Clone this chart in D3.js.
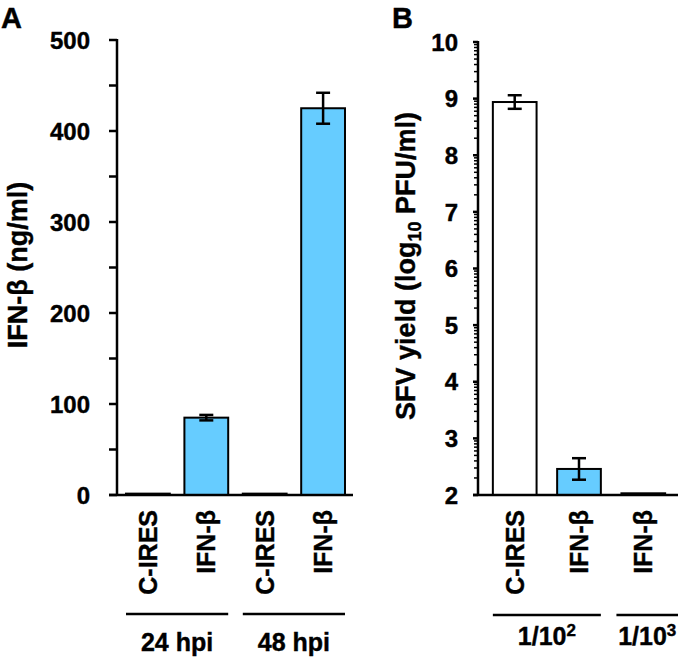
<!DOCTYPE html>
<html>
<head>
<meta charset="utf-8">
<script src="https://cdn.jsdelivr.net/npm/d3@7"></script>
<style>
  body { margin: 0; background: #fff; }
  svg text { font-family: "Liberation Sans", Arial, sans-serif; font-weight: bold; fill: #000; stroke: #000; stroke-width: 0.4px; }
</style>
</head>
<body>
<svg id="chart" width="680" height="658"></svg>
<script>
// panel A: IFN-beta secreted
const catsA = ["C-IRES", "IFN-β", "C-IRES", "IFN-β"];
const valuesA = [1.5, 85, 1.5, 425];
const errorsA = [0, 3, 0, 17];
const groupsA = [
    { label: "24 hpi", members: [0, 1] },
    { label: "48 hpi", members: [2, 3] }
];
const ticksA = [0, 50, 100, 150, 200, 250, 300, 350, 400, 450, 500];
const labelTicksA = [0, 100, 200, 300, 400, 500];

// panel B: SFV yield
const catsB = ["C-IRES", "IFN-β", "IFN-β"];
const valuesB = [8.94, 2.46, 2.03];
const errorsB = [0.12, 0.19, 0];
const groupsB = [
    { label: "1/10", sup: "2", members: [0, 1] },
    { label: "1/10", sup: "3", members: [2] }
];
const ticksB = [2, 3, 4, 5, 6, 7, 8, 9, 10];

const blue = "#66ccff";
const svg = d3.select("#chart");

function fillFor(c){
    return c === "C-IRES" ? "#fff" : blue;
}

function drawPanel(opt){
    const g = svg.append("g");
    const x = d3.scaleBand().domain(d3.range(opt.cats.length))
        .range(opt.xRange).paddingInner(opt.padIn).paddingOuter(opt.padOut);
    const y = d3.scaleLinear().domain(opt.yDomain).range(opt.yRange);
    const bw = x.bandwidth();

    // y axis line
    g.append("line")
        .attr("x1", opt.axisX).attr("x2", opt.axisX)
        .attr("y1", y(opt.yDomain[1]) - 1).attr("y2", y(opt.yDomain[0]))
        .attr("stroke", "#000").attr("stroke-width", 2.5);

    // ticks
    g.selectAll("line.tick").data(opt.ticks).join("line")
        .attr("class", "tick")
        .attr("x1", opt.axisX - opt.tickLen).attr("x2", opt.axisX)
        .attr("y1", d => y(d)).attr("y2", d => y(d))
        .attr("stroke", "#000").attr("stroke-width", 2.5);
    if (opt.minor){
        g.selectAll("line.minor").data(opt.minor).join("line")
            .attr("class", "minor")
            .attr("x1", opt.axisX - opt.minorLen).attr("x2", opt.axisX)
            .attr("y1", d => y(d)).attr("y2", d => y(d))
            .attr("stroke", "#000").attr("stroke-width", 1.5);
    }
    g.selectAll("text.tlab").data(opt.labelTicks).join("text")
        .attr("class", "tlab")
        .attr("x", opt.axisX - opt.labelGap)
        .attr("y", d => y(d))
        .attr("dy", "0.36em")
        .attr("text-anchor", "end")
        .style("font-size", "24px")
        .text(d => d);

    // bars
    g.selectAll("rect.bar").data(opt.values).join("rect")
        .attr("class", "bar")
        .attr("x", (d, i) => x(i))
        .attr("y", d => y(d))
        .attr("width", bw)
        .attr("height", d => y(opt.yDomain[0]) - y(d))
        .attr("fill", (d, i) => fillFor(opt.cats[i]))
        .attr("stroke", "#000").attr("stroke-width", 2);

    // error bars
    const eb = opt.values.map((v, i) => ({ v, e: opt.errors[i], i })).filter(d => d.e > 0);
    const ebG = g.selectAll("g.err").data(eb).join("g")
        .attr("class", "err")
        .attr("stroke", "#000").attr("stroke-width", 2.5);
    ebG.append("line")
        .attr("x1", d => x(d.i) + bw / 2).attr("x2", d => x(d.i) + bw / 2)
        .attr("y1", d => y(d.v + d.e)).attr("y2", d => y(d.v - d.e));
    ebG.append("line")
        .attr("x1", d => x(d.i) + bw / 2 - 7).attr("x2", d => x(d.i) + bw / 2 + 7)
        .attr("y1", d => y(d.v + d.e)).attr("y2", d => y(d.v + d.e));
    ebG.append("line")
        .attr("x1", d => x(d.i) + bw / 2 - 7).attr("x2", d => x(d.i) + bw / 2 + 7)
        .attr("y1", d => y(d.v - d.e)).attr("y2", d => y(d.v - d.e));

    // baseline
    g.append("line")
        .attr("x1", opt.axisX - opt.tickLen).attr("x2", opt.baseEnd)
        .attr("y1", y(opt.yDomain[0])).attr("y2", y(opt.yDomain[0]))
        .attr("stroke", "#000").attr("stroke-width", 2.5);

    // rotated category labels
    g.selectAll("text.clab").data(opt.cats).join("text")
        .attr("class", "clab")
        .attr("transform", (d, i) => `translate(${x(i) + bw / 2},${y(opt.yDomain[0]) + 15}) rotate(-90)`)
        .attr("dy", "0.36em")
        .attr("text-anchor", "end")
        .style("font-size", "25px")
        .text(d => d);

    // group lines + labels
    opt.groups.forEach(grp => {
        const x0 = x(grp.members[0]);
        let x1 = x(grp.members[grp.members.length - 1]) + bw;
        if (grp.members.length === 1){ x1 = opt.baseEnd; }
        const left = grp.members.length === 1 ? x0 - 5 : x0;
        g.append("line")
            .attr("x1", left).attr("x2", x1)
            .attr("y1", opt.groupLineY).attr("y2", opt.groupLineY)
            .attr("stroke", "#000").attr("stroke-width", 2.5);
        const t = g.append("text")
            .attr("x", (left + x1) / 2)
            .attr("y", opt.groupLabelY)
            .attr("text-anchor", "middle")
            .style("font-size", "25px")
            .text(grp.label);
        if (grp.sup){
            t.append("tspan").attr("dy", -9).style("font-size", "17px").text(grp.sup);
        }
    });

    // y title
    const title = g.append("text")
        .attr("transform", `translate(${opt.titleX},${opt.titleY}) rotate(-90)`)
        .attr("text-anchor", "middle")
        .style("font-size", "27px");
    opt.title(title);

    svg.append("text")
        .attr("x", opt.letterX).attr("y", 28)
        .style("font-size", "29px")
        .text(opt.letter);
}

// log-style minor ticks between each unit on panel B
const minorB = [];
ticksB.slice(0, -1).forEach(n => {
    d3.range(2, 10).forEach(k => minorB.push(n + Math.log10(k)));
});

drawPanel({
    letter: "A", letterX: 1,
    cats: catsA, values: valuesA, errors: errorsA, groups: groupsA,
    xRange: [119, 352], padIn: 0.25, padOut: 0.12,
    yDomain: [0, 500], yRange: [495, 40],
    axisX: 117, tickLen: 8, labelGap: 27,
    ticks: ticksA, labelTicks: labelTicksA,
    baseEnd: 353, groupLineY: 614, groupLabelY: 651,
    titleX: 27, titleY: 265,
    title: t => t.text("IFN-β (ng/ml)")
});

drawPanel({
    letter: "B", letterX: 392,
    cats: catsB, values: valuesB, errors: errorsB, groups: groupsB,
    xRange: [480, 678], padIn: 0.32, padOut: 0.2,
    yDomain: [2, 10], yRange: [495, 42],
    axisX: 478, tickLen: 5, minorLen: 4, labelGap: 20,
    ticks: ticksB, labelTicks: ticksB, minor: minorB,
    baseEnd: 678, groupLineY: 615, groupLabelY: 645,
    titleX: 415, titleY: 266,
    title: t => {
        t.append("tspan").text("SFV yield (log");
        t.append("tspan").attr("dy", 6).style("font-size", "18px").text("10");
        t.append("tspan").attr("dy", -6).text(" PFU/ml)");
    }
});
</script>
</body>
</html>
